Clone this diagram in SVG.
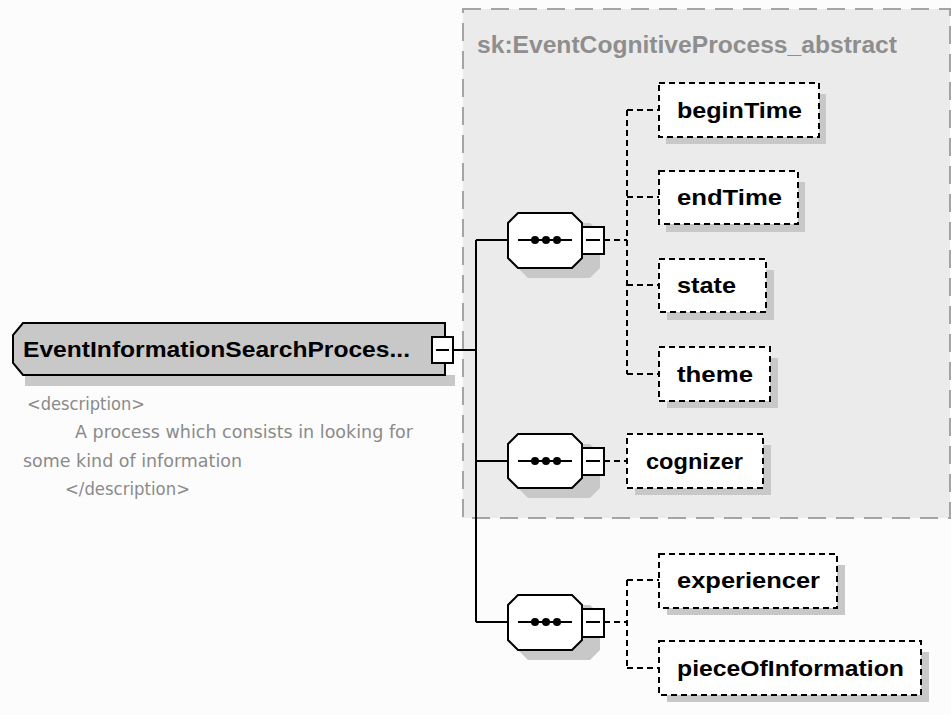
<svg xmlns="http://www.w3.org/2000/svg" width="951" height="715" viewBox="0 0 951 715">
<style>
.bg{fill:#fcfcfc}
.grp{fill:#ebebeb;stroke:#a4a4a4;stroke-width:2;stroke-dasharray:18,10}
.grpt{font-family:"Liberation Sans",Arial,sans-serif;font-weight:bold;font-size:23px;fill:#8e8e8e}
.shadow{fill:#c8c8c8;stroke:none}
.el{fill:#ffffff;stroke:#000;stroke-width:2;stroke-dasharray:6,4}
.lbl{font-family:"Liberation Sans",Arial,sans-serif;font-weight:bold;font-size:22px;fill:#000}
.main{fill:#c8c8c8;stroke:#000;stroke-width:2}
.mainl{font-family:"Liberation Sans",Arial,sans-serif;font-weight:bold;font-size:22px;fill:#000}
.desc{font-family:"DejaVu Sans",sans-serif;font-size:17px;fill:#8a8a8a}
.seq{fill:#fff;stroke:#000;stroke-width:2}
.box{fill:#fff;stroke:#000;stroke-width:2}
.ln{fill:none;stroke:#000;stroke-width:2}
.dl{fill:none;stroke:#000;stroke-width:2;stroke-dasharray:6,4}
</style>
<rect class="bg" x="0" y="0" width="951" height="715"/>
<g id="group-abstract">
<rect class="grp" x="463" y="9" width="487" height="509"/>
<text class="grpt" x="477" y="53" textLength="420" lengthAdjust="spacingAndGlyphs">sk:EventCognitiveProcess_abstract</text>
</g>
<g id="connectors">
<path class="ln" d="M453,350 H476 M476,240 V622 M476,240 H508 M476,461 H508 M476,622 H508"/>
<path class="dl" d="M604,240 H627 M627,110 V374 M627,110 H659 M627,197 H659 M627,285 H659 M627,374 H659"/>
<path class="dl" d="M604,461 H627"/>
<path class="dl" d="M604,622 H627 M627,580 V668 M627,580 H659 M627,668 H659"/>
</g>
<g id="node-main">
<rect class="shadow" x="25" y="375" width="430" height="11"/>
<path class="main" d="M23,323 H445 V375 H23 L13,363 V335 Z"/>
<text class="mainl" x="23" y="357" textLength="387" lengthAdjust="spacingAndGlyphs">EventInformationSearchProces...</text>
<rect class="box" x="432" y="337" width="21" height="26"/>
<path class="ln" d="M436,350 H449"/>
<text class="desc" x="27" y="410" textLength="118" lengthAdjust="spacingAndGlyphs">&lt;description&gt;</text>
<text class="desc" x="75" y="438" textLength="338" lengthAdjust="spacingAndGlyphs">A process which consists in looking for</text>
<text class="desc" x="23" y="467" textLength="219" lengthAdjust="spacingAndGlyphs">some kind of information</text>
<text class="desc" x="65" y="495" textLength="125" lengthAdjust="spacingAndGlyphs">&lt;/description&gt;</text>
</g>
<g id="seq1">
<path class="shadow" d="M528,223 H590 L600,233 V268 L590,278 H528 L518,268 V233 Z"/>
<path class="seq" d="M518,213 H572 L582,223 V258 L572,268 H518 L508,258 V223 Z"/>
<path class="ln" d="M518,240 H572"/>
<circle cx="535" cy="240" r="4"/><circle cx="546" cy="240" r="4"/><circle cx="557" cy="240" r="4"/>
<rect class="box" x="582" y="227" width="22" height="27"/>
<path class="ln" d="M586,240 H600"/>
</g>
<g id="seq2">
<path class="shadow" d="M528,444 H590 L600,454 V488 L590,498 H528 L518,488 V454 Z"/>
<path class="seq" d="M518,434 H572 L582,444 V478 L572,488 H518 L508,478 V444 Z"/>
<path class="ln" d="M518,461 H572"/>
<circle cx="535" cy="461" r="4"/><circle cx="546" cy="461" r="4"/><circle cx="557" cy="461" r="4"/>
<rect class="box" x="582" y="448" width="22" height="27"/>
<path class="ln" d="M586,461 H600"/>
</g>
<g id="seq3">
<path class="shadow" d="M528,605 H590 L600,615 V650 L590,660 H528 L518,650 V615 Z"/>
<path class="seq" d="M518,595 H572 L582,605 V640 L572,650 H518 L508,640 V605 Z"/>
<path class="ln" d="M518,622 H572"/>
<circle cx="535" cy="622" r="4"/><circle cx="546" cy="622" r="4"/><circle cx="557" cy="622" r="4"/>
<rect class="box" x="582" y="609" width="22" height="28"/>
<path class="ln" d="M586,622 H600"/>
</g>
<g id="node-beginTime">
<rect class="shadow" x="666" y="94" width="160" height="50"/>
<rect class="el" x="659" y="83" width="160" height="54"/>
<text class="lbl" x="677" y="118" textLength="125" lengthAdjust="spacingAndGlyphs">beginTime</text>
</g>
<g id="node-endTime">
<rect class="shadow" x="666" y="182" width="139" height="50"/>
<rect class="el" x="659" y="171" width="139" height="53"/>
<text class="lbl" x="677" y="205" textLength="105" lengthAdjust="spacingAndGlyphs">endTime</text>
</g>
<g id="node-state">
<rect class="shadow" x="667" y="270" width="107" height="50"/>
<rect class="el" x="659" y="259" width="107" height="53"/>
<text class="lbl" x="677" y="293" textLength="59" lengthAdjust="spacingAndGlyphs">state</text>
</g>
<g id="node-theme">
<rect class="shadow" x="667" y="358" width="111" height="50"/>
<rect class="el" x="659" y="347" width="111" height="54"/>
<text class="lbl" x="677" y="382" textLength="76" lengthAdjust="spacingAndGlyphs">theme</text>
</g>
<g id="node-cognizer">
<rect class="shadow" x="635" y="445" width="136" height="50"/>
<rect class="el" x="627" y="434" width="136" height="54"/>
<text class="lbl" x="646" y="469" textLength="97" lengthAdjust="spacingAndGlyphs">cognizer</text>
</g>
<g id="node-experiencer">
<rect class="shadow" x="667" y="565" width="178" height="50"/>
<rect class="el" x="659" y="554" width="178" height="54"/>
<text class="lbl" x="677" y="588" textLength="143" lengthAdjust="spacingAndGlyphs">experiencer</text>
</g>
<g id="node-pieceOfInformation">
<rect class="shadow" x="667" y="652" width="262" height="50"/>
<rect class="el" x="659" y="641" width="262" height="54"/>
<text class="lbl" x="677" y="676" textLength="227" lengthAdjust="spacingAndGlyphs">pieceOfInformation</text>
</g>
</svg>
